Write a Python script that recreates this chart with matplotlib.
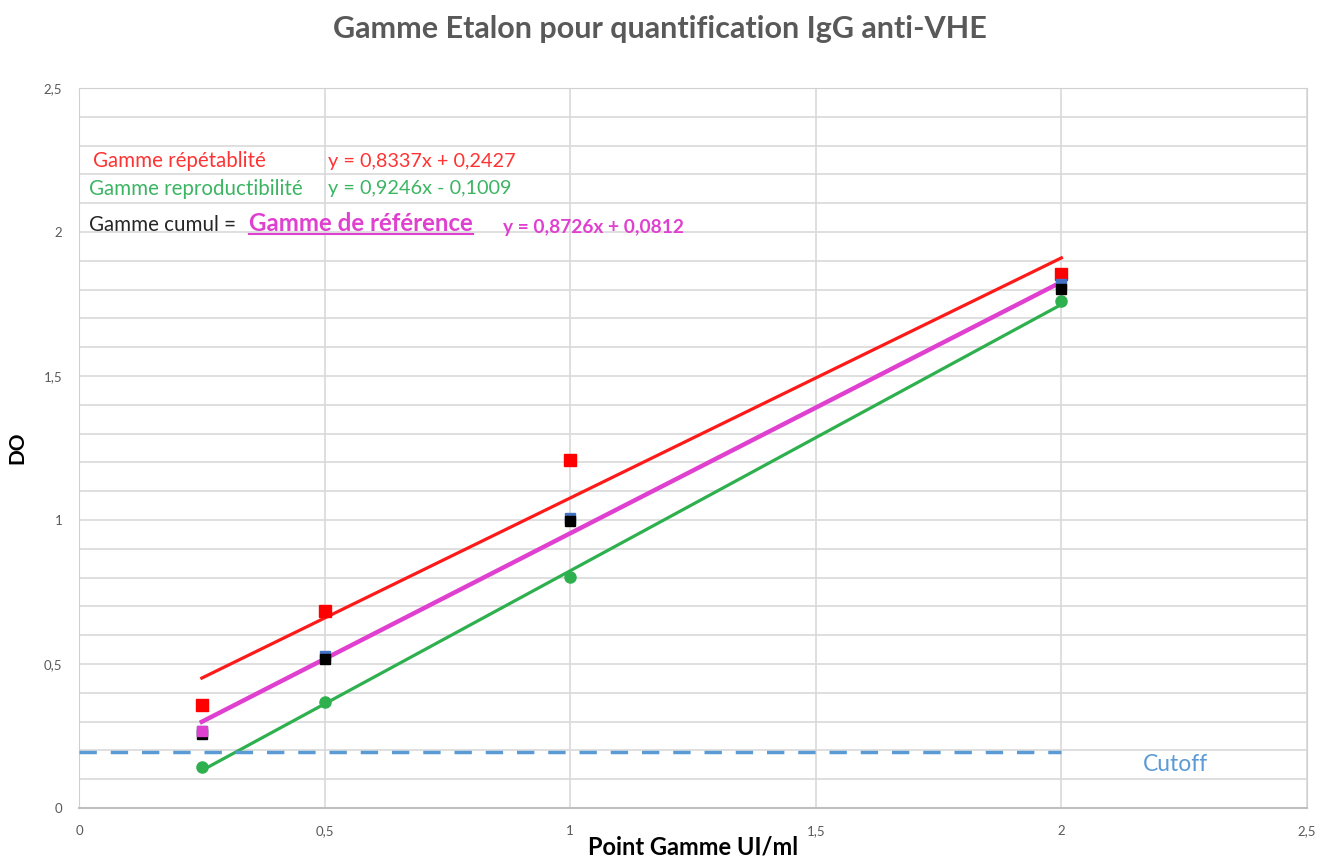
import matplotlib.pyplot as plt
import numpy as np
from matplotlib.ticker import MultipleLocator, FuncFormatter
from matplotlib.lines import Line2D

plt.rcParams['font.family'] = ['Lato', 'DejaVu Sans']

# points de gamme (UI/ml)
x_pts = [0.25, 0.5, 1, 2]

# DO mesurées
do_repet = [0.358, 0.684, 1.208, 1.854]
do_repro = [0.142, 0.368, 0.802, 1.760]
do_cumul = [0.258, 0.518, 0.998, 1.802]
do_ref = [0.267, 0.527, 1.006, 1.818]

# droites de régression (pente, ordonnée)
fit_repet = (0.8337, 0.2427)
fit_repro = (0.9246, -0.1009)
fit_ref = (0.8726, 0.0812)

cutoff = 0.194

col_red = '#ff1a1a'
col_green = '#2fb04f'
col_mag = '#e040cf'
col_blue = '#5b9bd5'

fig = plt.figure(figsize=(13.19, 8.61), dpi=100)
ax = fig.add_axes([79/1319, 1-808/861, (1307-79)/1319, (808-88)/861])

ax.set_xlim(0, 2.5)
ax.set_ylim(0, 2.5)
ax.xaxis.set_major_locator(MultipleLocator(0.5))
ax.yaxis.set_major_locator(MultipleLocator(0.5))
ax.yaxis.set_minor_locator(MultipleLocator(0.1))
fmt = FuncFormatter(lambda v, p: ('%g' % v).replace('.', ','))
ax.xaxis.set_major_formatter(fmt)
ax.yaxis.set_major_formatter(fmt)
ax.grid(True, which='major', color='#d9d9d9', lw=1.2)
ax.grid(True, which='minor', axis='y', color='#d9d9d9', lw=1.2)
ax.set_axisbelow(True)
ax.tick_params(which='both', length=0, labelsize=9.5, labelcolor='#595959', pad=12)
for s in ax.spines.values():
    s.set_color('#d0d0d0')
ax.spines['bottom'].set_color('#bfbfbf')
ax.spines['bottom'].set_linewidth(1.5)

xl = np.array([x_pts[0], x_pts[-1]])
ax.plot(xl, fit_repet[0]*xl + fit_repet[1], color=col_red, lw=2.3, zorder=3)
ax.plot(xl, fit_repro[0]*xl + fit_repro[1], color=col_green, lw=2.3, zorder=3)
ax.plot(xl, fit_ref[0]*xl + fit_ref[1], color=col_mag, lw=3.2, zorder=3)

ax.plot(x_pts, do_repet, 's', color='#ff0000', ms=9, zorder=4)
ax.plot(x_pts, do_repro, 'o', color=col_green, ms=8, zorder=4)
ax.plot(x_pts, do_ref, 's', color='#4472c4', ms=7.5, zorder=4)
ax.plot(x_pts, do_cumul, 's', color='black', ms=7, zorder=4)
ax.plot(x_pts[:1], do_ref[:1], 's', color=col_mag, ms=7, zorder=5)

ax.plot([0, 2], [cutoff, cutoff], '--', color=col_blue, lw=2.5, dashes=(5, 4), zorder=3)
ax.text(2.165, 0.15, 'Cutoff', color=col_blue, fontsize=16.5, va='center')

ax.text(0.028, 2.245, 'Gamme répétablité', color='#ff3333', fontsize=14.8, va='center')
ax.text(0.507, 2.245, 'y = 0,8337x + 0,2427', color='#ff3333', fontsize=14.3, va='center')
ax.text(0.02, 2.15, 'Gamme reproductibilité', color='#3cb563', fontsize=14.8, va='center')
ax.text(0.507, 2.15, 'y = 0,9246x - 0,1009', color='#3cb563', fontsize=14.3, va='center')
ax.text(0.02, 2.025, 'Gamme cumul = ', color='#262626', fontsize=14.8, va='center')
ref_txt = ax.text(0.346, 2.03, 'Gamme de référence', color=col_mag, fontsize=17.3,
                  fontweight='bold', va='center')
ax.text(0.863, 2.015, 'y = 0,8726x + 0,0812', color=col_mag, fontsize=13.8,
        fontweight='bold', va='center')

fig.suptitle('Gamme Etalon pour quantification IgG anti-VHE', y=0.982,
             fontsize=22, fontweight='bold', color='#595959')
ax.set_xlabel('Point Gamme UI/ml', fontsize=17, fontweight='bold', labelpad=-1)
ax.set_ylabel('DO', fontsize=15, fontweight='bold', labelpad=12)

# soulignement de "Gamme de référence"
fig.canvas.draw()
bb = ref_txt.get_window_extent()
fig.add_artist(Line2D([bb.x0/fig.bbox.width, bb.x1/fig.bbox.width],
                      [(bb.y0+1)/fig.bbox.height]*2, color=col_mag, lw=1.5))

fig.savefig('out.png', dpi=100)
